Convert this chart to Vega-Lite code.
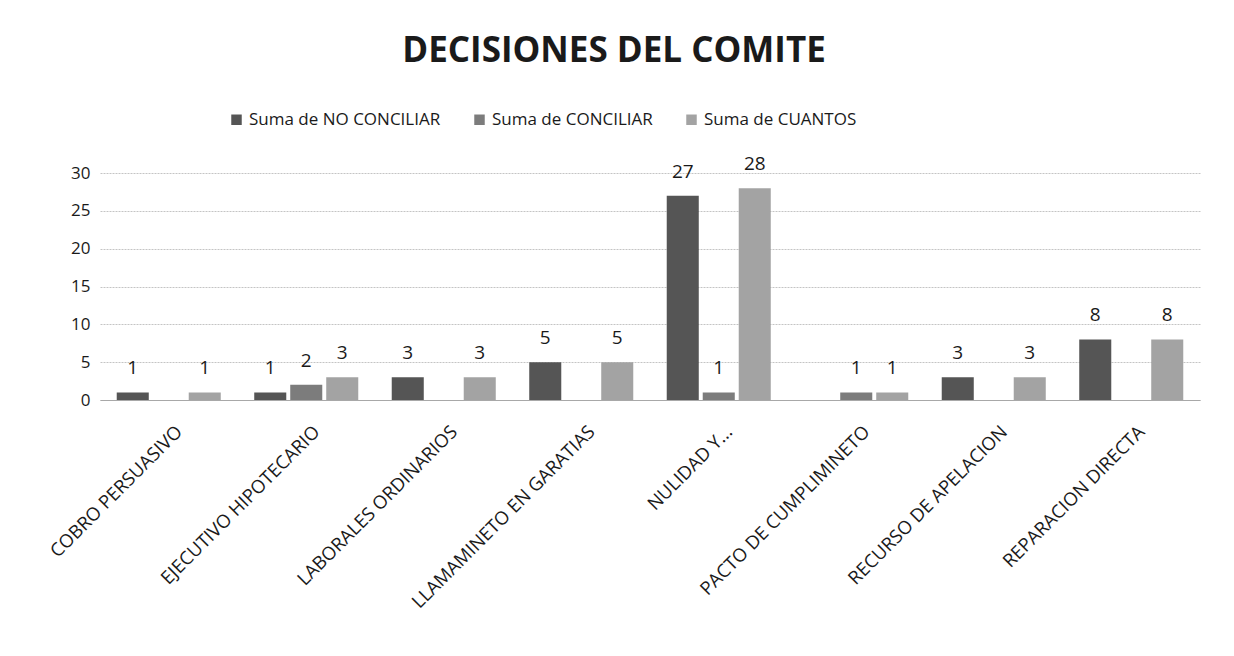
{
  "$schema": "https://vega.github.io/schema/vega-lite/v6.json",
  "width": 1100,
  "height": 227,
  "autosize": {"type": "none"},
  "padding": {"left": 100, "top": 173, "right": 34, "bottom": 256},
  "background": "white",
  "title": {
    "text": "DECISIONES DEL COMITE",
    "font": "Open Sans",
    "fontSize": 35,
    "fontWeight": "bold",
    "color": "#1a1a1a",
    "anchor": "middle",
    "dx": -36,
    "offset": 42
  },
  "data": {
    "values": [
      {"c": "COBRO PERSUASIVO", "s": "Suma de NO CONCILIAR", "v": 1},
      {"c": "COBRO PERSUASIVO", "s": "Suma de CUANTOS", "v": 1},
      {"c": "EJECUTIVO HIPOTECARIO", "s": "Suma de NO CONCILIAR", "v": 1},
      {"c": "EJECUTIVO HIPOTECARIO", "s": "Suma de CONCILIAR", "v": 2},
      {"c": "EJECUTIVO HIPOTECARIO", "s": "Suma de CUANTOS", "v": 3},
      {"c": "LABORALES ORDINARIOS", "s": "Suma de NO CONCILIAR", "v": 3},
      {"c": "LABORALES ORDINARIOS", "s": "Suma de CUANTOS", "v": 3},
      {"c": "LLAMAMINETO EN GARATIAS", "s": "Suma de NO CONCILIAR", "v": 5},
      {"c": "LLAMAMINETO EN GARATIAS", "s": "Suma de CUANTOS", "v": 5},
      {"c": "NULIDAD Y...", "s": "Suma de NO CONCILIAR", "v": 27},
      {"c": "NULIDAD Y...", "s": "Suma de CONCILIAR", "v": 1},
      {"c": "NULIDAD Y...", "s": "Suma de CUANTOS", "v": 28},
      {"c": "PACTO DE CUMPLIMINETO", "s": "Suma de CONCILIAR", "v": 1},
      {"c": "PACTO DE CUMPLIMINETO", "s": "Suma de CUANTOS", "v": 1},
      {"c": "RECURSO DE APELACION", "s": "Suma de NO CONCILIAR", "v": 3},
      {"c": "RECURSO DE APELACION", "s": "Suma de CUANTOS", "v": 3},
      {"c": "REPARACION DIRECTA", "s": "Suma de NO CONCILIAR", "v": 8},
      {"c": "REPARACION DIRECTA", "s": "Suma de CUANTOS", "v": 8}
    ]
  },
  "encoding": {
    "x": {
      "field": "c",
      "type": "nominal",
      "sort": null,
      "scale": {"paddingInner": 0, "paddingOuter": 0},
      "axis": {
        "title": null,
        "labelAngle": -45,
        "labelFont": "Open Sans",
        "labelFontSize": 18.5,
        "labelColor": "#1a1a1a",
        "labelPadding": 22,
        "labelOffset": 4,
        "labelLimit": 400,
        "ticks": false,
        "domainColor": "#a8a8a8",
        "domainWidth": 1
      }
    },
    "xOffset": {
      "field": "s",
      "type": "nominal",
      "sort": ["Suma de NO CONCILIAR", "Suma de CONCILIAR", "Suma de CUANTOS"],
      "scale": {"paddingInner": 0.11, "paddingOuter": 0.465}
    },
    "y": {
      "field": "v",
      "type": "quantitative",
      "scale": {"domain": [0, 30], "nice": false},
      "axis": {
        "title": null,
        "values": [0, 5, 10, 15, 20, 25, 30],
        "labelFont": "Open Sans",
        "labelFontSize": 17,
        "labelColor": "#1a1a1a",
        "labelPadding": 10,
        "ticks": false,
        "domain": false,
        "gridColor": "#c4c4c4",
        "gridWidth": 1,
        "gridDash": [2, 1]
      }
    }
  },
  "layer": [
    {
      "mark": {"type": "bar"},
      "encoding": {
        "color": {
          "field": "s",
          "type": "nominal",
          "scale": {
            "domain": ["Suma de NO CONCILIAR", "Suma de CONCILIAR", "Suma de CUANTOS"],
            "range": ["#555555", "#7c7c7c", "#a3a3a3"]
          },
          "legend": {
            "title": null,
            "orient": "none",
            "legendX": 128,
            "legendY": -62,
            "direction": "horizontal",
            "symbolType": "square",
            "symbolSize": 110,
            "symbolStrokeWidth": 0,
            "labelFont": "Open Sans",
            "labelFontSize": 17,
            "labelLimit": 400,
            "labelColor": "#1a1a1a",
            "columnPadding": 30,
            "labelOffset": 4
          }
        }
      }
    },
    {
      "mark": {
        "type": "text",
        "baseline": "bottom",
        "dy": -14,
        "font": "Open Sans",
        "fontSize": 19,
        "color": "#1a1a1a"
      },
      "encoding": {
        "text": {"field": "v", "type": "quantitative"}
      }
    }
  ],
  "config": {
    "view": {"stroke": null}
  }
}
